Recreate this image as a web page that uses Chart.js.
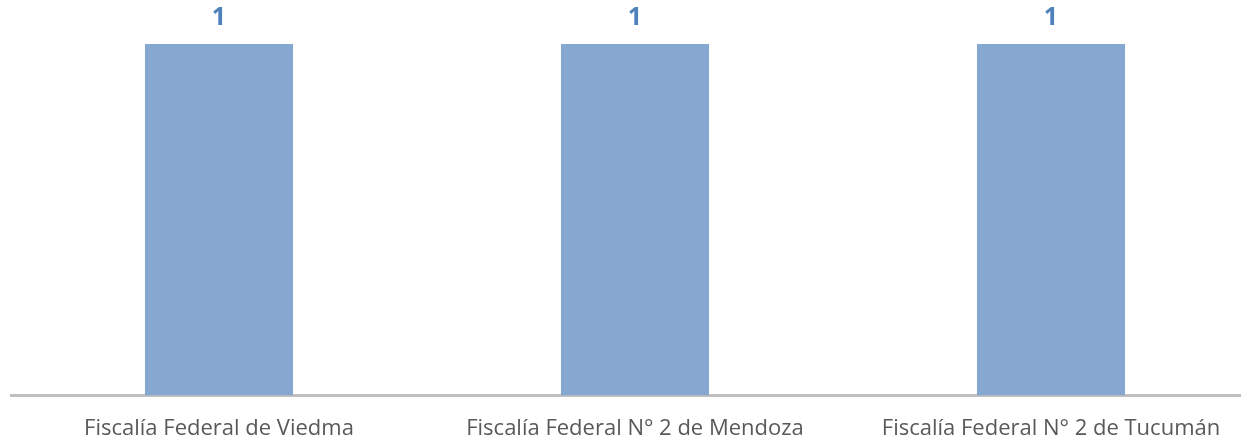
<!DOCTYPE html>
<html lang="es">
<head>
    <meta charset="UTF-8">
    <title>Fiscalías</title>
</head>
<script src="https://cdn.jsdelivr.net/npm/chart.js"></script>
<style>
body {
    margin: 0;
    overflow: hidden;
    background: #ffffff;
}
#wrap {
    position: absolute;
    left: 0;
    top: 0;
    width: 1259px;
    height: 440px;
}
</style>
<body>
    <div id="wrap"><canvas id="BarGraph"></canvas></div>
    <script>
        const categories = ['Fiscalía Federal de Viedma', 'Fiscalía Federal N° 2 de Mendoza', 'Fiscalía Federal N° 2 de Tucumán'];
        const values = [1, 1, 1];

        // draws the value above each bar
        const valueLabels = {
            id: 'valueLabels',
            afterDatasetsDraw(chart) {
                const ctx = chart.ctx;
                ctx.save();
                ctx.font = 'bold 25px "Open Sans", sans-serif';
                ctx.fillStyle = '#4F81BD';
                ctx.textAlign = 'center';
                ctx.textBaseline = 'middle';
                chart.getDatasetMeta(0).data.forEach((bar, i) => {
                    ctx.fillText(values[i], bar.x, bar.y - 26);
                });
                ctx.restore();
            }
        };

        new Chart(document.getElementById('BarGraph'), {
            type: 'bar',
            data: {
                labels: categories,
                datasets: [{
                    data: values,
                    backgroundColor: '#86A8D0',
                    barPercentage: 0.356,
                    categoryPercentage: 1
                }]
            },
            options: {
                responsive: true,
                maintainAspectRatio: false,
                animation: false,
                layout: { padding: { left: 11, right: 0, top: 44, bottom: 0 } },
                plugins: {
                    legend: { display: false },
                    tooltip: { enabled: false }
                },
                scales: {
                    x: {
                        grid: { display: false },
                        border: { color: '#BFBFBF', width: 3 },
                        afterFit(scale) { scale.height = 44.5; },
                        ticks: {
                            color: '#595959',
                            padding: 12,
                            maxRotation: 0,
                            autoSkip: false,
                            font: { family: '"Open Sans", sans-serif', size: 22 }
                        }
                    },
                    y: {
                        display: false,
                        min: 0,
                        max: 1
                    }
                }
            },
            plugins: [valueLabels]
        });
    </script>
</body>
</html>
